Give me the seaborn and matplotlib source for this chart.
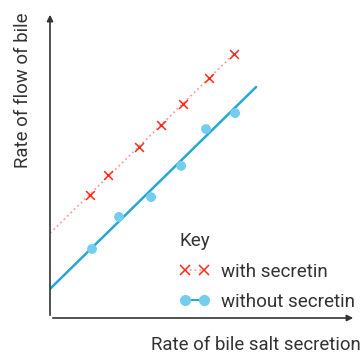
import matplotlib
matplotlib.use("Agg")
import matplotlib.pyplot as plt
import seaborn as sns
from matplotlib.lines import Line2D

# readings (arbitrary units)
with_x = [1.33, 1.93, 2.97, 3.70, 4.43, 5.30, 6.13]
with_y = [4.10, 4.77, 5.70, 6.43, 7.13, 8.00, 8.80]
without_x = [1.40, 2.30, 3.37, 4.37, 5.20, 6.17]
without_y = [2.30, 3.37, 4.03, 5.07, 6.30, 6.83]

# best-fit lines
fit_with_x = [0.0, 6.13]
fit_with_y = [2.83, 8.80]
fit_without_x = [0.0, 6.87]
fit_without_y = [0.97, 7.70]

red = "#ff2a1a"
pink = "#f2a3a0"
blue_line = "#27a7d4"
blue_pt = "#74cdee"
ink = "#333333"

sns.set_style("white")
plt.rcParams['font.family'] = ['Roboto', 'DejaVu Sans']

fig = plt.figure(figsize=(3.64, 3.56), dpi=100)
ax = fig.add_axes([50/364, 38/356, 306/364, 306/356])

sns.lineplot(x=fit_with_x, y=fit_with_y, ax=ax, color=pink, linestyle=':', linewidth=1.3)
sns.lineplot(x=fit_without_x, y=fit_without_y, ax=ax, color=blue_line, linewidth=1.8)
sns.scatterplot(x=without_x, y=without_y, ax=ax, color=blue_pt, s=50, edgecolor='none', zorder=3)
sns.scatterplot(x=with_x, y=with_y, ax=ax, color=red, marker='x', s=40, linewidth=1.1, zorder=3)

ax.set_xlim(0, 10.2)
ax.set_ylim(0, 10.2)
ax.set_xticks([])
ax.set_yticks([])
for s in ax.spines.values():
    s.set_visible(False)

# arrow axes
ax.annotate('', xy=(1.0, 0), xytext=(0, 0), xycoords='axes fraction',
            arrowprops=dict(arrowstyle='-|>', color=ink, lw=1.2, mutation_scale=9))
ax.annotate('', xy=(0, 1.0), xytext=(0, 0), xycoords='axes fraction',
            arrowprops=dict(arrowstyle='-|>', color=ink, lw=1.2, mutation_scale=9))

fig.text(361/364, 1 - 345/356, 'Rate of bile salt secretion', ha='right', va='center',
         fontsize=13.4, color=ink)
fig.text(23/364, 1 - 12/356, 'Rate of flow of bile', ha='center', va='top',
         rotation=90, fontsize=13.4, color=ink)

handles = [
    Line2D([], [], color=pink, linestyle=':', linewidth=1.3, marker='x',
           markeredgecolor=red, markersize=6.5, markeredgewidth=1.1),
    Line2D([], [], color=blue_line, linewidth=1.5, marker='o',
           markerfacecolor=blue_pt, markeredgecolor=blue_pt, markersize=7),
]
leg = ax.legend(handles, ['with secretin', 'without secretin'], title='Key',
                numpoints=2, frameon=False, loc='upper left',
                bbox_to_anchor=(120/306, 1 - 211/306), fontsize=13.6,
                title_fontsize=13.6, handlelength=1.6, handletextpad=0.6,
                labelspacing=0.65, borderpad=0, labelcolor=ink)
leg._legend_box.align = 'left'
leg.get_title().set_color(ink)

fig.savefig('out.png', dpi=100)
